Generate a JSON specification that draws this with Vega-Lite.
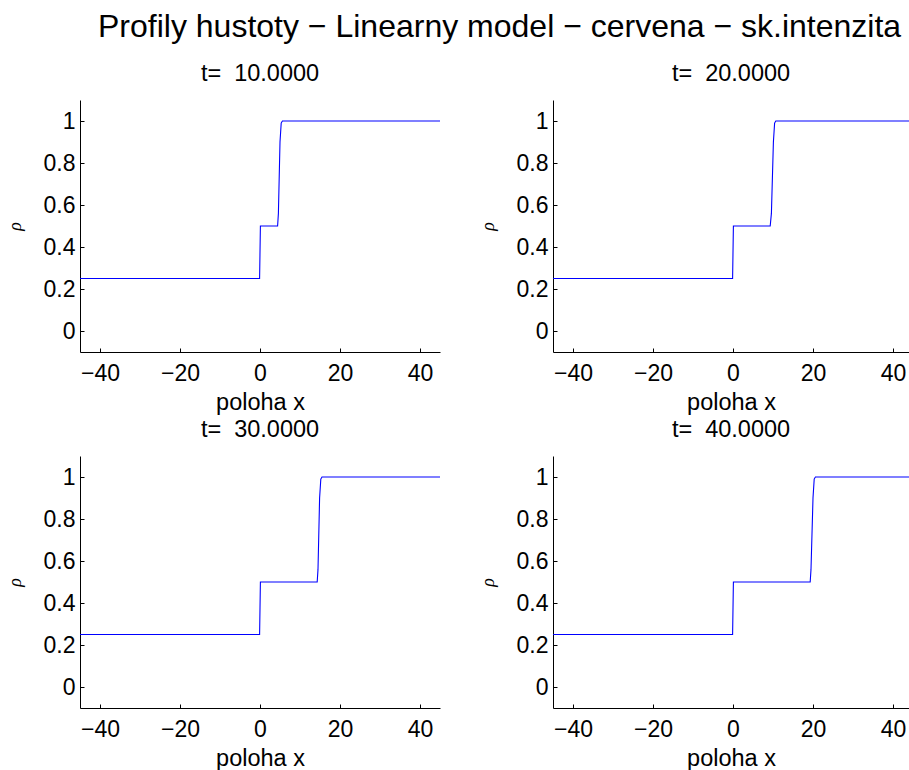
{
  "$schema": "https://vega.github.io/schema/vega-lite/v6.json",
  "background": "white",
  "padding": {"left": 6, "top": 11, "right": 0, "bottom": 0},
  "title": {
    "text": "Profily hustoty − Linearny model − cervena − sk.intenzita",
    "fontSize": 32,
    "font": "Liberation Sans",
    "fontWeight": "normal",
    "color": "black",
    "anchor": "start",
    "frame": "group",
    "dx": 18,
    "offset": 18
  },
  "data": {
    "values": [
      {"t": 10, "x": -45, "rho": 0.25}, {"t": 10, "x": -0.1, "rho": 0.25}, {"t": 10, "x": 0.1, "rho": 0.5},
      {"t": 10, "x": 4.4, "rho": 0.5}, {"t": 10, "x": 4.6, "rho": 0.56}, {"t": 10, "x": 5.0, "rho": 0.9},
      {"t": 10, "x": 5.3, "rho": 0.99}, {"t": 10, "x": 5.6, "rho": 1}, {"t": 10, "x": 45, "rho": 1},

      {"t": 20, "x": -45, "rho": 0.25}, {"t": 20, "x": -0.1, "rho": 0.25}, {"t": 20, "x": 0.1, "rho": 0.5},
      {"t": 20, "x": 9.3, "rho": 0.5}, {"t": 20, "x": 9.6, "rho": 0.56}, {"t": 20, "x": 10.1, "rho": 0.9},
      {"t": 20, "x": 10.4, "rho": 0.99}, {"t": 20, "x": 10.7, "rho": 1}, {"t": 20, "x": 45, "rho": 1},

      {"t": 30, "x": -45, "rho": 0.25}, {"t": 30, "x": -0.1, "rho": 0.25}, {"t": 30, "x": 0.1, "rho": 0.5},
      {"t": 30, "x": 14.3, "rho": 0.5}, {"t": 30, "x": 14.5, "rho": 0.56}, {"t": 30, "x": 14.9, "rho": 0.9},
      {"t": 30, "x": 15.2, "rho": 0.99}, {"t": 30, "x": 15.5, "rho": 1}, {"t": 30, "x": 45, "rho": 1},

      {"t": 40, "x": -45, "rho": 0.25}, {"t": 40, "x": -0.1, "rho": 0.25}, {"t": 40, "x": 0.1, "rho": 0.5},
      {"t": 40, "x": 19.3, "rho": 0.5}, {"t": 40, "x": 19.5, "rho": 0.56}, {"t": 40, "x": 20.0, "rho": 0.9},
      {"t": 40, "x": 20.3, "rho": 0.99}, {"t": 40, "x": 20.6, "rho": 1}, {"t": 40, "x": 45, "rho": 1}
    ]
  },
  "config": {
    "view": {"stroke": null},
    "font": "Liberation Sans",
    "axis": {
      "domainColor": "black",
      "domainWidth": 1,
      "tickColor": "black",
      "tickWidth": 1,
      "tickSize": -4,
      "grid": false,
      "labelFont": "Liberation Sans",
      "labelFontSize": 23,
      "labelColor": "black",
      "titleFont": "Liberation Sans",
      "titleFontSize": 23.5,
      "titleFontWeight": "normal",
      "titleColor": "black"
    },
    "axisX": {"labelPadding": 14, "titlePadding": 5},
    "axisY": {"labelPadding": 9, "titlePadding": 19},
    "title": {
      "font": "Liberation Sans",
      "fontSize": 23.5,
      "fontWeight": "normal",
      "color": "black"
    }
  },
  "columns": 2,
  "spacing": {"row": 104, "column": 113},
  "bounds": "flush",
  "concat": [
    {
      "title": {"text": "t= \u00a010.0000", "anchor": "middle", "baseline": "alphabetic", "offset": -4.5},
      "width": 360,
      "height": 252,
      "transform": [{"filter": "datum.t == 10"}],
      "mark": {"type": "line", "color": "#0000ff", "strokeWidth": 1.1, "clip": true},
      "encoding": {
        "x": {"field": "x", "type": "quantitative", "scale": {"domain": [-45, 45], "nice": false, "zero": false},
              "axis": {"values": [-40, -20, 0, 20, 40], "format": "~r", "title": "poloha x"}},
        "y": {"field": "rho", "type": "quantitative", "scale": {"domain": [-0.1, 1.1], "nice": false, "zero": false},
              "axis": {"values": [0, 0.2, 0.4, 0.6, 0.8, 1], "format": "~r", "title": "ρ",
                       "titleFont": "Liberation Serif", "titleFontStyle": "italic", "titleFontSize": 18}}
      }
    },
    {
      "title": {"text": "t= \u00a020.0000", "anchor": "middle", "baseline": "alphabetic", "offset": -4.5},
      "width": 356,
      "height": 252,
      "transform": [{"filter": "datum.t == 20"}],
      "mark": {"type": "line", "color": "#0000ff", "strokeWidth": 1.1, "clip": true},
      "encoding": {
        "x": {"field": "x", "type": "quantitative", "scale": {"domain": [-45, 44], "nice": false, "zero": false},
              "axis": {"values": [-40, -20, 0, 20, 40], "format": "~r", "title": "poloha x"}},
        "y": {"field": "rho", "type": "quantitative", "scale": {"domain": [-0.1, 1.1], "nice": false, "zero": false},
              "axis": {"values": [0, 0.2, 0.4, 0.6, 0.8, 1], "format": "~r", "title": "ρ",
                       "titleFont": "Liberation Serif", "titleFontStyle": "italic", "titleFontSize": 18}}
      }
    },
    {
      "title": {"text": "t= \u00a030.0000", "anchor": "middle", "baseline": "alphabetic", "offset": -4.5},
      "width": 360,
      "height": 252,
      "transform": [{"filter": "datum.t == 30"}],
      "mark": {"type": "line", "color": "#0000ff", "strokeWidth": 1.1, "clip": true},
      "encoding": {
        "x": {"field": "x", "type": "quantitative", "scale": {"domain": [-45, 45], "nice": false, "zero": false},
              "axis": {"values": [-40, -20, 0, 20, 40], "format": "~r", "title": "poloha x"}},
        "y": {"field": "rho", "type": "quantitative", "scale": {"domain": [-0.1, 1.1], "nice": false, "zero": false},
              "axis": {"values": [0, 0.2, 0.4, 0.6, 0.8, 1], "format": "~r", "title": "ρ",
                       "titleFont": "Liberation Serif", "titleFontStyle": "italic", "titleFontSize": 18}}
      }
    },
    {
      "title": {"text": "t= \u00a040.0000", "anchor": "middle", "baseline": "alphabetic", "offset": -4.5},
      "width": 356,
      "height": 252,
      "transform": [{"filter": "datum.t == 40"}],
      "mark": {"type": "line", "color": "#0000ff", "strokeWidth": 1.1, "clip": true},
      "encoding": {
        "x": {"field": "x", "type": "quantitative", "scale": {"domain": [-45, 44], "nice": false, "zero": false},
              "axis": {"values": [-40, -20, 0, 20, 40], "format": "~r", "title": "poloha x"}},
        "y": {"field": "rho", "type": "quantitative", "scale": {"domain": [-0.1, 1.1], "nice": false, "zero": false},
              "axis": {"values": [0, 0.2, 0.4, 0.6, 0.8, 1], "format": "~r", "title": "ρ",
                       "titleFont": "Liberation Serif", "titleFontStyle": "italic", "titleFontSize": 18}}
      }
    }
  ]
}
